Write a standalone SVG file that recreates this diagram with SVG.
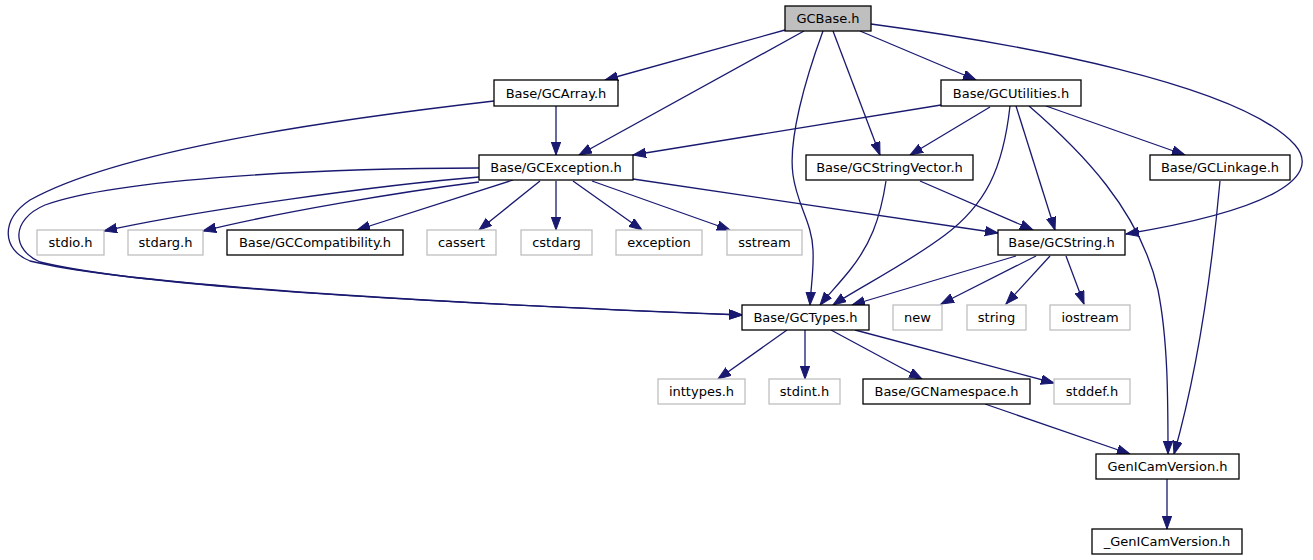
<svg xmlns="http://www.w3.org/2000/svg" width="1313" height="560" viewBox="0 0 1313 560">
<style>
.n rect{fill:#fff;stroke:#000;stroke-width:1.3}
.g rect{fill:#fff;stroke:#bfbfbf;stroke-width:1.3}
.root rect{fill:#bfbfbf;stroke:#000;stroke-width:1.3}
text{font-family:"DejaVu Sans",sans-serif;font-size:13px;fill:#000;text-anchor:middle}
#edges path{fill:none;stroke:#191970;stroke-width:1.3;marker-end:url(#arr)}
</style>
<defs>
<marker id="arr" markerUnits="userSpaceOnUse" markerWidth="14" markerHeight="11" refX="13" refY="5" orient="auto">
<path d="M0,0.3 L13,5 L0,9.7 z" fill="#191970" stroke="#191970" stroke-width="1"/>
</marker>
</defs>
<rect width="1313" height="560" fill="#fff"/>
<g id="edges">
<path d="M785,30 L605,80"/>
<path d="M804,31 L579,155"/>
<path d="M823,31 C805,80 788,140 793,175 C797,205 812,222 813,250 C814,270 811,285 810,305"/>
<path d="M833,31 L880,155"/>
<path d="M860,31 L976,80"/>
<path d="M871,24 C1020,44 1240,84 1295,145 C1325,180 1260,212 1126,234"/>
<path d="M556,106 L556,155"/>
<path d="M494,101 C330,120 120,150 30,200 C0,220 2,250 30,261 C140,288 510,306 742,315"/>
<path d="M479,168 C330,168 120,178 45,205 C10,220 12,250 40,262 C150,290 520,306 742,315"/>
<path d="M479,177 C380,185 200,210 104,231"/>
<path d="M479,182 C400,192 280,212 203,231"/>
<path d="M513,180 L357,230"/>
<path d="M540,181 L479,230"/>
<path d="M556,181 L556,230"/>
<path d="M573,181 L642,230"/>
<path d="M592,181 L730,230"/>
<path d="M633,179 L998,233"/>
<path d="M941,105 L633,155"/>
<path d="M990,107 L910,155"/>
<path d="M1010,106 C1003,170 985,205 945,235 C905,265 858,288 833,305"/>
<path d="M1016,106 L1055,230"/>
<path d="M1029,106 C1080,150 1140,210 1158,290 C1168,340 1168,400 1168,454"/>
<path d="M1046,106 L1185,155"/>
<path d="M886,181 C880,220 870,245 850,270 C838,285 828,295 820,305"/>
<path d="M920,181 L1033,230"/>
<path d="M1220,181 C1210,290 1195,380 1174,454"/>
<path d="M1016,256 L852,305"/>
<path d="M1036,256 L941,304"/>
<path d="M1050,256 L1006,304"/>
<path d="M1066,256 L1084,304"/>
<path d="M787,330 L718,379"/>
<path d="M805,330 L805,379"/>
<path d="M831,330 L922,379"/>
<path d="M855,330 L1054,383"/>
<path d="M985,404 L1130,454"/>
<path d="M1167,479 L1167,529"/>
</g>
<g id="GCBase" class="root"><rect x="785" y="6" width="86" height="25"/><text x="828" y="23">GCBase.h</text></g>
<g id="GCArray" class="n"><rect x="494" y="80" width="124" height="26"/><text x="556" y="97.5">Base/GCArray.h</text></g>
<g id="GCException" class="n"><rect x="479" y="155" width="154" height="25"/><text x="556" y="172">Base/GCException.h</text></g>
<g id="GCStringVector" class="n"><rect x="806" y="155" width="167" height="25"/><text x="889.5" y="172">Base/GCStringVector.h</text></g>
<g id="GCUtilities" class="n"><rect x="941" y="80" width="140" height="26"/><text x="1011" y="97.5">Base/GCUtilities.h</text></g>
<g id="GCLinkage" class="n"><rect x="1150" y="155" width="140" height="25"/><text x="1220" y="172">Base/GCLinkage.h</text></g>
<g id="stdio" class="g"><rect x="37" y="230" width="67" height="25"/><text x="70.5" y="247">stdio.h</text></g>
<g id="stdarg" class="g"><rect x="128" y="230" width="75" height="25"/><text x="165.5" y="247">stdarg.h</text></g>
<g id="GCCompatibility" class="n"><rect x="227" y="230" width="176" height="25"/><text x="315" y="247">Base/GCCompatibility.h</text></g>
<g id="cassert" class="g"><rect x="427" y="230" width="69" height="25"/><text x="461.5" y="247">cassert</text></g>
<g id="cstdarg" class="g"><rect x="521" y="230" width="71" height="25"/><text x="556.5" y="247">cstdarg</text></g>
<g id="exception" class="g"><rect x="616" y="230" width="86" height="25"/><text x="659" y="247">exception</text></g>
<g id="sstream" class="g"><rect x="727" y="230" width="75" height="25"/><text x="764.5" y="247">sstream</text></g>
<g id="GCString" class="n"><rect x="998" y="230" width="127" height="25"/><text x="1061.5" y="247">Base/GCString.h</text></g>
<g id="GCTypes" class="n"><rect x="742" y="305" width="127" height="25"/><text x="805.5" y="322">Base/GCTypes.h</text></g>
<g id="new" class="g"><rect x="893" y="305" width="49" height="25"/><text x="917.5" y="322">new</text></g>
<g id="string" class="g"><rect x="967" y="305" width="59" height="25"/><text x="996.5" y="322">string</text></g>
<g id="iostream" class="g"><rect x="1050" y="305" width="80" height="25"/><text x="1090" y="322">iostream</text></g>
<g id="inttypes" class="g"><rect x="658" y="379" width="87" height="25"/><text x="701.5" y="396">inttypes.h</text></g>
<g id="stdint" class="g"><rect x="769" y="379" width="71" height="25"/><text x="804.5" y="396">stdint.h</text></g>
<g id="GCNamespace" class="n"><rect x="863" y="379" width="167" height="25"/><text x="946.5" y="396">Base/GCNamespace.h</text></g>
<g id="stddef" class="g"><rect x="1054" y="379" width="76" height="25"/><text x="1092" y="396">stddef.h</text></g>
<g id="GenICamVersion" class="n"><rect x="1096" y="454" width="143" height="25"/><text x="1167.5" y="471">GenICamVersion.h</text></g>
<g id="GenICamVersionInt" class="n"><rect x="1092" y="529" width="150" height="25"/><text x="1167" y="546">_GenICamVersion.h</text></g>
</svg>
